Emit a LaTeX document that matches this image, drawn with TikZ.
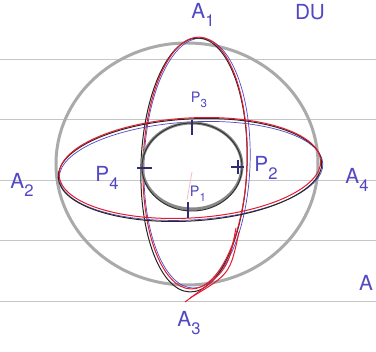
\documentclass[tikz,border=0pt]{standalone}
\usepackage{fontspec}
\setmainfont{TeX Gyre Heros}
\definecolor{ink}{RGB}{82,72,196}
\definecolor{pencil}{RGB}{170,170,170}
\definecolor{redpen}{RGB}{228,28,48}
\newcommand{\hsub}[2]{#1\raisebox{-0.35em}{\scalebox{0.8}{#2}}}
\begin{document}
\begin{tikzpicture}[x=1pt, y=-1pt, line width=1pt, font=\huge,
  label/.style={text=ink, inner sep=0pt},
  small/.style={font=\Large},
  rule/.style={gray!45, line width=0.6pt},
  tick/.style={ink!60!black, line width=1.2pt}]
  \useasboundingbox (0,0) rectangle (376,352);
  \fill[white] (0,0) rectangle (376,352);
  % ruled paper
  \foreach \y in {59,119,180,240,301}
    \draw[rule] (0,\y) -- (376,\y);
  % outer pencil circle
  \draw[pencil, line width=3pt] (187,164) ellipse [x radius=131, y radius=121];
  % vertical ellipse A1--A3
  \begin{scope}[rotate around={-2:(194,165)}]
    \draw[ink, line width=0.7pt] (197,163) ellipse [x radius=53, y radius=125];
    \draw[black!85] (194,165) ellipse [x radius=53, y radius=127];
    \draw[redpen] (195,163) ellipse [x radius=52, y radius=126];
  \end{scope}
  \draw[redpen] (236,228) .. controls (228,270) .. (185,302);
  \draw[redpen] (239,232) .. controls (230,274) .. (190,298);
  % horizontal ellipse A2--A4
  \begin{scope}[rotate around={3.3:(190,170)}]
    \draw[ink, line width=0.7pt] (191,171) ellipse [x radius=132, y radius=49];
    \draw[black!85] (190,170) ellipse [x radius=132, y radius=51];
    \draw[redpen] (190,168) ellipse [x radius=131, y radius=50];
  \end{scope}
  % inner circle
  \draw[pencil!80!black, line width=3pt] (192,166) ellipse [x radius=50, y radius=43];
  \draw[black!80] (192,167) ellipse [x radius=50, y radius=44];
  \draw[redpen!30, line width=0.8pt] (192,172) -- (187,200);
  % ticks on the inner circle
  \draw[tick] (192,120) -- (192,135);
  \draw[tick] (188,202) -- (188,218);
  \draw[tick] (137,168) -- (152,168);
  \draw[tick] (231,167) -- (244,167);
  \draw[tick] (238,160) -- (238,174);
  % labels
  \node[label] (a1) at (203,15) {\hsub{A}{1}};
  \node[label] (a2) at (22,185) {\hsub{A}{2}};
  \node[label] (a3) at (189,323) {\hsub{A}{3}};
  \node[label] (a4) at (357,180) {\hsub{A}{4}};
  \node[label] (a5) at (366,283) {A};
  \node[label, small] (p3) at (199,100) {\hsub{P}{3}};
  \node[label] (p2) at (266,168) {\hsub{P}{2}};
  \node[label] (p4) at (107,178) {\hsub{P}{4}};
  \node[label, small] (p1) at (198,194) {\hsub{P}{1}};
  \node[label] (du) at (310,12) {DU};
\end{tikzpicture}
\end{document}
